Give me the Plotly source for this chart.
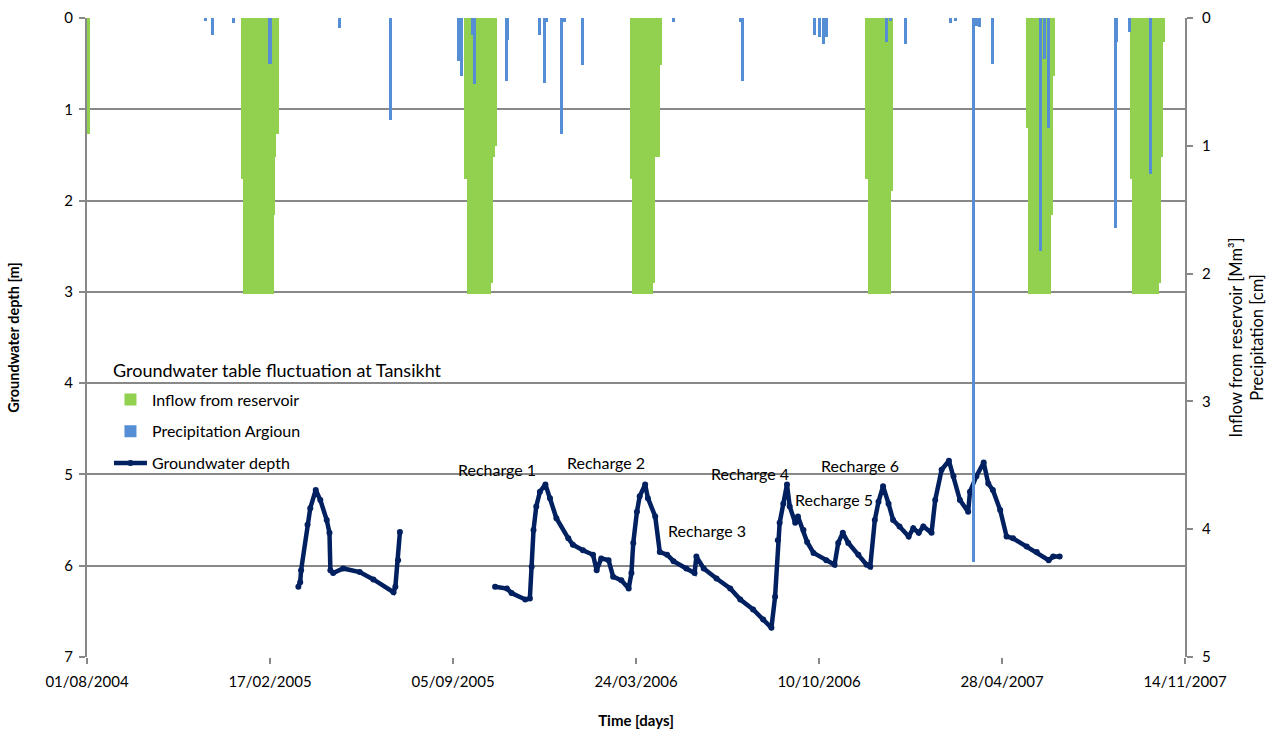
import datetime as dt
import plotly.graph_objects as go

# Reservoir releases: first day, duration in days, inflow [Mm3]
inflow_start = ["2004-08-01",
                "2005-01-17", "2005-01-19", "2005-02-21", "2005-02-22", "2005-02-24",
                "2005-09-18", "2005-09-20", "2005-10-17", "2005-10-19", "2005-10-20",
                "2006-03-18", "2006-03-20", "2006-04-12", "2006-04-14", "2006-04-19",
                "2006-11-30", "2006-12-02", "2006-12-28",
                "2007-05-25", "2007-05-26", "2007-06-21", "2007-06-23",
                "2007-09-15", "2007-09-17", "2007-10-17", "2007-10-19", "2007-10-21"]
inflow_days = [3,
               2, 33, 1, 2, 3,
               2, 27, 2, 1, 3,
               2, 23, 2, 5, 2,
               2, 26, 1,
               1, 26, 2, 2,
               2, 30, 2, 2, 2]
inflow_mm3 = [0.91,
              1.26, 2.16, 1.54, 1.09, 0.91,
              1.26, 2.16, 2.07, 1.09, 1.00,
              1.26, 2.16, 2.07, 1.09, 0.37,
              1.26, 2.16, 1.35,
              0.86, 2.16, 1.54, 0.45,
              1.26, 2.16, 2.07, 1.09, 0.19]

# Daily precipitation at Argioun [cm]
precip_dates = ["2004-12-09", "2004-12-16", "2005-01-08", "2005-02-17", "2005-05-04",
                "2005-06-29", "2005-09-11", "2005-09-14", "2005-09-26", "2005-09-28",
                "2005-11-02", "2005-11-04", "2005-12-08", "2005-12-14", "2005-12-16",
                "2006-01-02", "2006-01-05", "2006-01-24", "2006-01-25", "2006-05-04",
                "2006-07-16", "2006-07-18", "2006-10-05", "2006-10-11", "2006-10-15",
                "2006-10-18", "2006-12-23", "2006-12-27", "2007-01-13", "2007-03-03",
                "2007-03-08", "2007-03-28", "2007-03-31", "2007-04-03", "2007-04-18",
                "2007-06-09", "2007-06-13", "2007-06-18", "2007-08-30", "2007-08-31",
                "2007-09-14", "2007-10-07"]
precip_cm = [0.02, 0.13, 0.04, 0.36, 0.08,
             0.80, 0.34, 0.45, 0.13, 0.52,
             0.49, 0.17, 0.13, 0.51, 0.03,
             0.91, 0.03, 0.10, 0.37, 0.03,
             0.03, 0.49, 0.13, 0.15, 0.20,
             0.15, 0.19, 0.02, 0.20, 0.04,
             0.02, 4.26, 0.06, 0.07, 0.36,
             1.82, 0.32, 0.86, 1.64, 0.19,
             0.11, 1.22]

# Groundwater depth below surface [m], two logger records
gw_dates_a = ["2005-03-20", "2005-03-22", "2005-03-23", "2005-03-30", "2005-04-02",
              "2005-04-08", "2005-04-13", "2005-04-20", "2005-04-23", "2005-04-24",
              "2005-04-27", "2005-05-08", "2005-05-26", "2005-06-10", "2005-07-02",
              "2005-07-04", "2005-07-07", "2005-07-09"]
gw_depth_a = [6.23, 6.18, 6.05, 5.55, 5.37,
              5.17, 5.28, 5.50, 5.64, 6.05,
              6.08, 6.03, 6.07, 6.15, 6.29,
              6.23, 5.94, 5.63]

gw_dates_b = ["2005-10-21", "2005-11-03", "2005-11-08", "2005-11-23", "2005-11-28",
              "2005-11-30", "2005-12-02", "2005-12-05", "2005-12-09", "2005-12-15",
              "2005-12-20", "2005-12-27", "2006-01-09", "2006-01-14", "2006-01-25",
              "2006-02-05", "2006-02-09", "2006-02-14", "2006-02-22", "2006-02-27",
              "2006-03-08", "2006-03-16", "2006-03-19", "2006-03-21", "2006-03-25",
              "2006-03-28", "2006-04-03", "2006-04-06", "2006-04-14", "2006-04-19",
              "2006-04-27", "2006-05-04", "2006-05-18", "2006-05-27", "2006-05-29",
              "2006-06-06", "2006-06-20", "2006-07-05", "2006-07-16", "2006-07-30",
              "2006-08-10", "2006-08-19", "2006-08-23", "2006-08-26", "2006-08-28",
              "2006-09-01", "2006-09-05", "2006-09-08", "2006-09-14", "2006-09-17",
              "2006-09-23", "2006-09-27", "2006-10-04", "2006-10-18", "2006-10-27",
              "2006-10-31", "2006-11-05", "2006-11-11", "2006-11-22", "2006-12-01",
              "2006-12-05", "2006-12-10", "2006-12-14", "2006-12-19", "2006-12-25",
              "2006-12-30", "2007-01-06", "2007-01-16", "2007-01-21", "2007-01-27",
              "2007-02-01", "2007-02-10", "2007-02-14", "2007-02-21", "2007-03-01",
              "2007-03-06", "2007-03-13", "2007-03-22", "2007-03-24", "2007-03-31",
              "2007-04-08", "2007-04-13", "2007-04-18", "2007-04-26", "2007-05-03",
              "2007-05-10", "2007-05-25", "2007-06-05", "2007-06-18", "2007-06-23",
              "2007-06-30"]
gw_depth_b = [6.23, 6.25, 6.30, 6.37, 6.36,
              6.01, 5.61, 5.35, 5.19, 5.11,
              5.26, 5.48, 5.70, 5.77, 5.83,
              5.88, 6.05, 5.92, 5.94, 6.12,
              6.16, 6.25, 6.08, 5.75, 5.41,
              5.24, 5.11, 5.26, 5.46, 5.85,
              5.88, 5.95, 6.03, 6.08, 5.90,
              6.03, 6.14, 6.25, 6.37, 6.48,
              6.59, 6.68, 6.34, 5.72, 5.53,
              5.32, 5.11, 5.35, 5.53, 5.46,
              5.61, 5.74, 5.86, 5.94, 5.99,
              5.75, 5.64, 5.75, 5.88, 5.99,
              6.01, 5.50, 5.30, 5.13, 5.32,
              5.50, 5.57, 5.68, 5.59, 5.64,
              5.57, 5.64, 5.28, 4.95, 4.85,
              5.02, 5.28, 5.41, 5.19, 5.02,
              4.87, 5.10, 5.17, 5.39, 5.68,
              5.70, 5.79, 5.85, 5.94, 5.90,
              5.90]

recharge_labels = ["Recharge 1", "Recharge 2", "Recharge 3",
                   "Recharge 4", "Recharge 5", "Recharge 6"]
recharge_dates = ["2005-10-23", "2006-02-19", "2006-06-10",
                  "2006-07-27", "2006-10-26", "2006-11-24"]
recharge_depth = [4.95, 4.87, 5.61, 4.99, 5.28, 4.90]

DAY_MS = 86400000
FONT = "Lato, 'Open Sans', sans-serif"
GRID = "#888888"

# release bars span their whole duration
inflow_mid, inflow_width = [], []
for s, n in zip(inflow_start, inflow_days):
    d0 = dt.datetime.fromisoformat(s)
    inflow_mid.append(d0 + dt.timedelta(days=n / 2))
    inflow_width.append(n * DAY_MS)

gw_x = gw_dates_a + [None] + gw_dates_b
gw_y = gw_depth_a + [None] + gw_depth_b

fig = go.Figure()

fig.add_trace(go.Bar(
    x=inflow_mid, y=inflow_mm3, width=inflow_width, yaxis="y2",
    name="Inflow from reservoir", legendgroup="inflow",
    marker=dict(color="#92D050", line=dict(width=0)),
))
fig.add_trace(go.Bar(
    x=precip_dates, y=precip_cm, width=[3.3 * DAY_MS] * len(precip_dates), yaxis="y2",
    name="Precipitation Argioun", legendgroup="precip",
    marker=dict(color="#558ED5", line=dict(width=0)),
))
fig.add_trace(go.Scatter(
    x=gw_x, y=gw_y, mode="lines+markers", connectgaps=False,
    name="Groundwater depth", legendgroup="gw",
    line=dict(color="#002060", width=4.5),
    marker=dict(color="#002060", size=6),
))

for lab, xd, yd in zip(recharge_labels, recharge_dates, recharge_depth):
    fig.add_annotation(x=xd, y=yd, text=lab, showarrow=False,
                       font=dict(family=FONT, size=16, color="#000000"))

# heading above the legend entries
fig.add_annotation(xref="paper", yref="paper", x=0.0219, y=0.449,
                   xanchor="left", yanchor="middle", showarrow=False,
                   text="Groundwater table fluctuation at Tansikht",
                   font=dict(family=FONT, size=18, color="#000000"))

fig.update_layout(
    width=1271, height=729,
    margin=dict(l=87, r=86, t=18, b=72),
    paper_bgcolor="white", plot_bgcolor="white",
    barmode="overlay", bargap=0,
    font=dict(family=FONT, size=15, color="#000000"),
    showlegend=True,
    legend=dict(
        x=0.02, y=0.4295, xanchor="left", yanchor="top",
        bgcolor="rgba(0,0,0,0)", font=dict(size=16),
        tracegroupgap=8, itemwidth=33,
    ),
    xaxis=dict(
        type="date", range=["2004-08-01", "2007-11-14"],
        tick0="2004-08-01", dtick=200 * DAY_MS, tickformat="%d/%m/%Y",
        ticks="outside", ticklen=6, tickcolor=GRID, tickwidth=2,
        ticklabelstandoff=5,
        showgrid=False, showline=False, zeroline=False,
        tickfont=dict(size=15),
        title=dict(text="<b>Time [days]</b>", font=dict(size=15), standoff=26),
        automargin=False,
    ),
    yaxis=dict(
        range=[7, 0], dtick=1, tick0=0,
        showgrid=True, gridcolor=GRID, gridwidth=2,
        showline=True, linecolor=GRID, linewidth=2,
        ticks="outside", ticklen=6, tickcolor=GRID, tickwidth=2,
        ticklabelstandoff=3,
        zeroline=False, tickfont=dict(size=15),
        title=dict(text="<b>Groundwater depth [m]</b>", font=dict(size=14.5), standoff=41),
        automargin=False,
    ),
    yaxis2=dict(
        overlaying="y", side="right", range=[5, 0], dtick=1, tick0=0,
        showgrid=False, zeroline=False,
        showline=True, linecolor=GRID, linewidth=2,
        ticks="outside", ticklen=6, tickcolor=GRID, tickwidth=2,
        ticklabelstandoff=6,
        tickfont=dict(size=15),
        title=dict(text="Inflow from reservoir [Mm³]<br>Precipitation [cm]",
                   font=dict(size=16.5), standoff=20),
        automargin=False,
    ),
)

fig.write_html("out.html")
